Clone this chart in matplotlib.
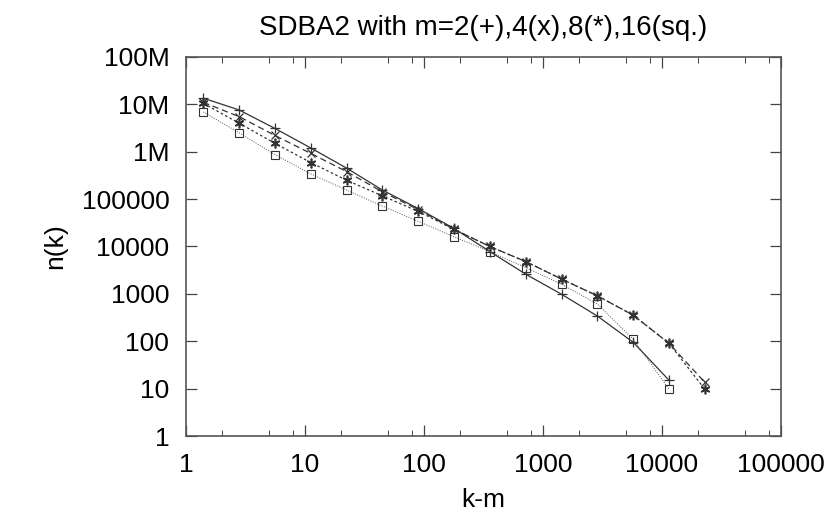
import matplotlib
matplotlib.use("Agg")
import matplotlib.pyplot as plt
from matplotlib.ticker import LogLocator, FixedLocator, FixedFormatter, NullFormatter

plt.rcParams['font.family'] = ['Liberation Sans', 'DejaVu Sans']

# bin centres (k-m)
k = [1.4, 2.8, 5.6, 11.2, 22.4, 44.8, 89.6, 179, 358, 717, 1434, 2867, 5734, 11469, 22938]

# n(k) for each m
n_m2 = [13.5e6, 7.6e6, 3.1e6, 1.2e6, 4.5e5, 1.55e5, 6.3e4, 2.4e4, 7.8e3, 2.6e3, 980, 340, 95, 15]
n_m4 = [11e6, 5.5e6, 2.2e6, 9.2e5, 3.8e5, 1.42e5, 6.0e4, 2.3e4, 1.0e4, 4.8e3, 2.05e3, 910, 355, 90, 13.5]
n_m8 = [10.5e6, 4.0e6, 1.5e6, 5.9e5, 2.5e5, 1.17e5, 5.5e4, 2.3e4, 1.0e4, 4.8e3, 2.05e3, 910, 355, 90, 9.7]
n_m16 = [6.9e6, 2.5e6, 8.7e5, 3.4e5, 1.55e5, 7.1e4, 3.4e4, 1.6e4, 7.8e3, 3.6e3, 1.6e3, 610, 110, 9.7]

ytick_vals = [1, 10, 100, 1000, 1e4, 1e5, 1e6, 1e7, 1e8]
ytick_labels = ['1', '10', '100', '1000', '10000', '100000', '1M', '10M', '100M']
xtick_vals = [1, 10, 100, 1000, 1e4, 1e5]
xtick_labels = ['1', '10', '100', '1000', '10000', '100000']

fig = plt.figure(figsize=(8.3, 5.13), dpi=100)
ax = fig.add_axes([0.224, 0.150, 0.717, 0.739])

col = '#333333'
ax.plot(k[:len(n_m2)], n_m2, color=col, lw=0.9, ls='-', marker='+', ms=7, mew=0.9)
ax.plot(k[:len(n_m4)], n_m4, color=col, lw=0.9, ls=(0, (5, 3)), marker='x', ms=6, mew=0.9)
ax.plot(k[:len(n_m8)], n_m8, color=col, lw=0.9, ls=(0, (2, 2)), marker=(6, 2, 0), ms=7, mew=1.2)
ax.plot(k[:len(n_m16)], n_m16, color='#555555', lw=0.7, ls=(0, (1, 1.5)), marker='s', ms=6,
        mfc='none', mec=col, mew=0.8)

ax.set_xscale('log')
ax.set_yscale('log')
ax.set_xlim(1, 1e5)
ax.set_ylim(1, 1e8)

ax.xaxis.set_major_locator(FixedLocator(xtick_vals))
ax.xaxis.set_major_formatter(FixedFormatter(xtick_labels))
ax.yaxis.set_major_locator(FixedLocator(ytick_vals))
ax.yaxis.set_major_formatter(FixedFormatter(ytick_labels))
ax.xaxis.set_minor_locator(LogLocator(base=10, subs=(2, 5, 8)))
ax.yaxis.set_minor_locator(LogLocator(base=10, subs=(2, 5, 8)))
ax.xaxis.set_minor_formatter(NullFormatter())
ax.yaxis.set_minor_formatter(NullFormatter())

ax.tick_params(which='both', direction='in', top=True, right=True, color='#444444',
               labelsize=19, pad=12)
ax.tick_params(which='major', length=8, width=0.9)
ax.tick_params(which='minor', length=4, width=0.7)
for s in ax.spines.values():
    s.set_color('#555555')
    s.set_linewidth(1.2)

ax.set_xlabel('k-m', fontsize=19, labelpad=8)
ax.set_ylabel('n(k)', fontsize=19, labelpad=10)
ax.set_title('SDBA2 with m=2(+),4(x),8(*),16(sq.)', fontsize=20, pad=16)

fig.savefig('out.png', dpi=100)
